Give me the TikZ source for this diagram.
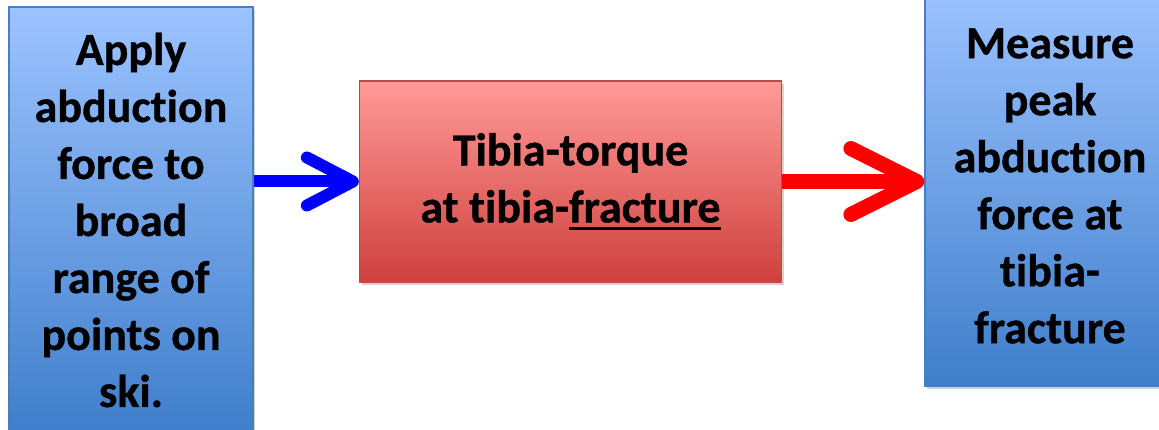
\documentclass[tikz,border=0pt]{standalone}
\usepackage{fontspec}
\setmainfont[Ligatures=NoCommon, BoldFeatures={FakeBold=0.8}]{Carlito}
\usetikzlibrary{arrows.meta,positioning,shadows}
\definecolor{BoxBlueTop}{HTML}{9CC3FF}
\definecolor{BoxBlueBot}{HTML}{3F7ECB}
\definecolor{BoxBlueEdge}{HTML}{4A7EBB}
\definecolor{BoxRedTop}{HTML}{FF9A98}
\definecolor{BoxRedBot}{HTML}{CF403D}
\definecolor{BoxRedEdge}{HTML}{BE4B48}
% heavier underline than \underline gives
\newcommand\thickul[1]{\setbox0\hbox{#1}\rlap{\rule[-7.5pt]{\wd0}{2.6pt}}\box0}

\begin{document}
\begin{tikzpicture}[x=1pt,y=-1pt,
  every node/.style={font=\bfseries\fontsize{46}{57}\selectfont, align=center, inner sep=0pt},
  bluebox/.style={draw=BoxBlueEdge, line width=1.2pt, top color=BoxBlueTop, bottom color=BoxBlueBot,
    drop shadow={shadow xshift=2pt, shadow yshift=-3pt, opacity=.35}},
  redbox/.style={draw=BoxRedEdge, line width=1.2pt, top color=BoxRedTop, bottom color=BoxRedBot,
    drop shadow={shadow xshift=2pt, shadow yshift=-3pt, opacity=.35}},
  flowarrow/.style={line width=#1}]
  \useasboundingbox (0,0) rectangle (1159,430);
  \node[bluebox, minimum width=244pt, minimum height=426pt] (apply) at (131,220)
    {Apply\\abduction\\force to\\broad\\range of\\points on\\ski.};
  \node[redbox, minimum width=422pt, minimum height=201pt] (torque) at (570.5,181.5)
    {Tibia-torque\\at tibia-\thickul{fracture}};
  \node[bluebox, minimum width=250pt, minimum height=400pt] (measure) at (1050,186)
    {Measure\\peak\\abduction\\force at\\tibia-\\fracture};
  \draw[flowarrow=12pt, blue, -{Straight Barb[length=46pt, width=48pt, round]}]
    (apply.east |- torque.west) -- (torque.west);
  \draw[flowarrow=15pt, red, -{Straight Barb[length=66pt, width=66pt, round]}]
    (torque.east) -- (measure.west |- torque.east);
\end{tikzpicture}
\end{document}
